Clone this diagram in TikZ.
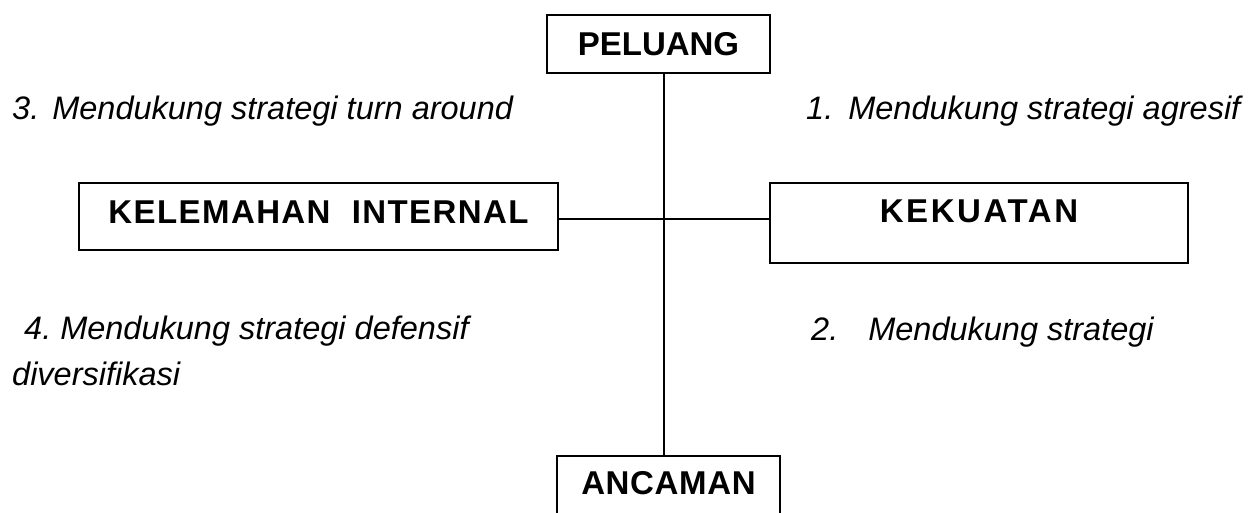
\documentclass[tikz,border=0pt]{standalone}
\usepackage{fontspec}
\setmainfont{Liberation Sans}
\begin{document}
\begin{tikzpicture}[x=1pt,y=-1pt,
  box/.style={draw, line width=1.6pt, inner xsep=0pt, inner ysep=0pt, outer sep=0pt,
    anchor=north west, font=\fontsize{33}{39}\selectfont\bfseries},
  lbl/.style={anchor=base west, inner sep=0pt, font=\fontsize{32.5}{39}\selectfont\itshape},
  ln/.style={line width=1.5pt}]
\clip (0,0) rectangle (1248,513);
\useasboundingbox (0,0) rectangle (1248,513);
\fill[white] (0,0) rectangle (1248,513);

\node[box, minimum width=223pt, text height=41pt, text depth=17pt] (peluang) at (547,15)
  {PELUANG};
\node[box, minimum width=479pt, text height=41pt, text depth=26pt] (kelemahan) at (79,183)
  {\addfontfeature{LetterSpace=4.3}KELEMAHAN\ \ INTERNAL};
\node[box, minimum width=418pt, text height=40pt, text depth=40pt] (kekuatan) at (770,183)
  {\addfontfeature{LetterSpace=7.8}KEKUATAN};
\node[box, minimum width=223pt, text height=38pt, text depth=40pt] (ancaman) at (557,456)
  {\addfontfeature{LetterSpace=2}ANCAMAN};

\node[lbl] (t3) at (12,120) {3.\hspace{13pt}Mendukung strategi turn around};
\node[lbl] (t1) at (806,120) {1.\hspace{15pt}Mendukung strategi agresif};
\node[lbl] (t4) at (24,339) {4.\hspace{9pt}Mendukung strategi defensif};
\node[lbl] (t4b) at (12,385) {diversifikasi};
\node[lbl] (t2) at (811,340) {2.\hspace{30pt}Mendukung strategi};

\coordinate (c) at (664,219);
\draw[ln] (c |- peluang.south) -- (c |- ancaman.north);
\draw[ln] (kelemahan.east |- c) -- (kekuatan.west |- c);
\end{tikzpicture}
\end{document}
